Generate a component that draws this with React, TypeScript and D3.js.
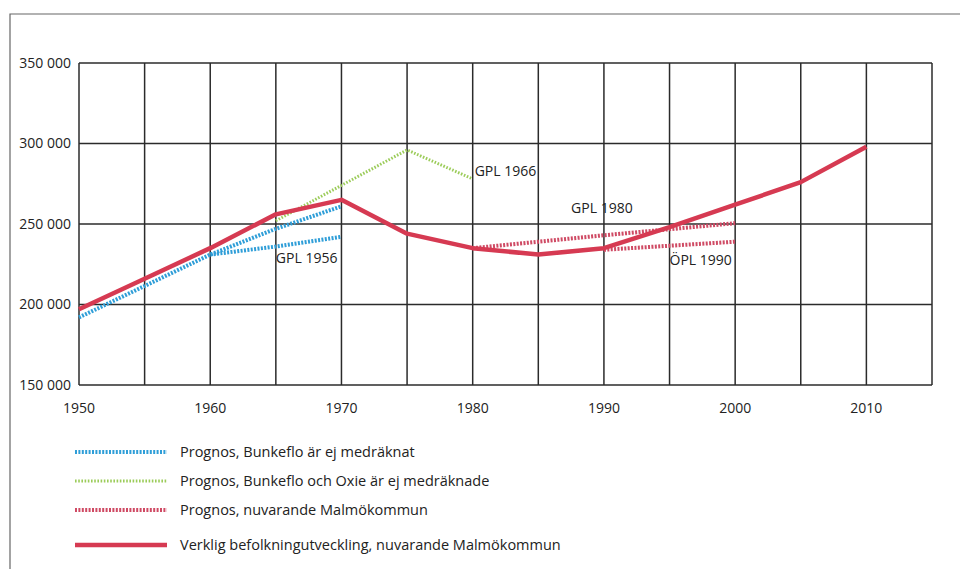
import * as d3 from "d3";

// years on the x axis and the y ticks
const years = [1950, 1955, 1960, 1965, 1970, 1975, 1980, 1985, 1990, 1995, 2000, 2005, 2010];
const yearLabels = [1950, 1960, 1970, 1980, 1990, 2000, 2010];
const yTicks = [150000, 200000, 250000, 300000, 350000];

// actual population, current Malmö municipality
const actual = [197000, 216000, 235000, 256000, 265000, 244000, 235000, 231000, 235000, 248000, 262000, 276000, 298000];

// forecasts
const gpl1956Upper = [[1950, 192000], [1960, 231000], [1965, 247000], [1970, 261000]];
const gpl1956Lower = [[1960, 231000], [1965, 236000], [1970, 242000]];
const gpl1966 = [[1965, 252000], [1970, 274000], [1975, 296000], [1980, 278000]];
const gpl1980 = [[1980, 235000], [1990, 243000], [2000, 250500]];
const opl1990 = [[1990, 234000], [2000, 239000]];

const legendNames = [
  "Prognos, Bunkeflo är ej medräknat",
  "Prognos, Bunkeflo och Oxie är ej medräknade",
  "Prognos, nuvarande Malmökommun",
  "Verklig befolkningutveckling, nuvarande Malmökommun",
];

const blue = "#2f9ed8";
const green = "#9ccc5a";
const pink = "#cf4a64";
const red = "#d63a52";
const font = "'Open Sans', sans-serif";

export default function App() {
  const width = 960;
  const height = 569;

  const x = d3.scaleLinear().domain([1950, 2015]).range([79, 932]);
  const y = d3.scaleLinear().domain([150000, 350000]).range([385, 63]);

  const line = d3.line<number[]>().x(d => x(d[0])).y(d => y(d[1]));
  const actualPts = years.map((yr, i) => [yr, actual[i]]);

  const gridYears = d3.range(1950, 2016, 5);

  const legendStyles = [
    {color: blue, w: 4, dash: "2 1.4"},
    {color: green, w: 3, dash: "1.6 1.6"},
    {color: pink, w: 4, dash: "2 1.4"},
    {color: red, w: 4.5, dash: null},
  ];
  const legendY = [452, 481, 510, 545];

  return (
    <svg width={width} height={height} style={{position: "absolute", left: 0, top: 0, background: "#fff"}}>
      {/* outer frame */}
      <path d={`M10,${height} V14 H${width}`} fill="none" stroke="#666" strokeWidth={1.2} />

      {/* grid */}
      <g stroke="#2b2b2b" strokeWidth={1.5}>
        {gridYears.map(yr => (
          <line key={yr} x1={x(yr)} x2={x(yr)} y1={y(350000)} y2={y(150000)} />
        ))}
        {yTicks.map(v => (
          <line key={v} x1={x(1950)} x2={x(2015)} y1={y(v)} y2={y(v)} />
        ))}
      </g>

      {/* y labels */}
      <g fontFamily={font} fontSize={14} fill="#222" textAnchor="end">
        {yTicks.map(v => (
          <text key={v} x={71} y={y(v)} dy="0.35em">{d3.format(",")(v).replace(",", " ")}</text>
        ))}
      </g>

      {/* x labels */}
      <g fontFamily={font} fontSize={14} fill="#222" textAnchor="middle">
        {yearLabels.map(yr => (
          <text key={yr} x={x(yr)} y={408} dy="0.35em">{yr}</text>
        ))}
      </g>

      {/* forecasts */}
      <path d={line(gpl1966) || ""} fill="none" stroke={green} strokeWidth={3} strokeDasharray="1.6 1.6" />
      <path d={line(gpl1956Upper) || ""} fill="none" stroke={blue} strokeWidth={4} strokeDasharray="2 1.4" />
      <path d={line(gpl1956Lower) || ""} fill="none" stroke={blue} strokeWidth={4} strokeDasharray="2 1.4" />
      <path d={line(gpl1980) || ""} fill="none" stroke={pink} strokeWidth={4} strokeDasharray="2 1.4" />
      <path d={line(opl1990) || ""} fill="none" stroke={pink} strokeWidth={4} strokeDasharray="2 1.4" />

      {/* actual */}
      <path d={line(actualPts) || ""} fill="none" stroke={red} strokeWidth={4.5} strokeLinejoin="round" />

      {/* annotations */}
      <g fontFamily={font} fontSize={14} fill="#222">
        <text x={x(1965)} y={y(237000)} dy="1.3em">GPL 1956</text>
        <text x={x(1980) + 2} y={y(283000)} dy="0.35em">GPL 1966</text>
        <text x={x(1987.5)} y={y(260000)} dy="0.35em">GPL 1980</text>
        <text x={x(1995)} y={y(236000)} dy="1.35em">ÖPL 1990</text>
      </g>

      {/* legend */}
      <g fontFamily={font} fontSize={14.5} fill="#222">
        {legendNames.map((name, i) => (
          <g key={name}>
            <line x1={75} x2={167} y1={legendY[i]} y2={legendY[i]} stroke={legendStyles[i].color}
                  strokeWidth={legendStyles[i].w} strokeDasharray={legendStyles[i].dash || undefined} />
            <text x={180} y={legendY[i]} dy="0.35em">{name}</text>
          </g>
        ))}
      </g>
    </svg>
  );
}
